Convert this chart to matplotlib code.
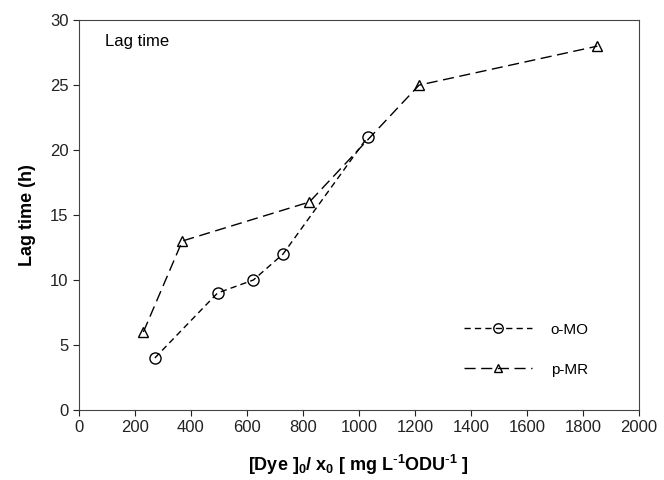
import matplotlib
matplotlib.use("Agg")
import matplotlib.pyplot as plt

plt.rcParams['font.family'] = ['Liberation Sans', 'DejaVu Sans']
plt.rcParams['mathtext.default'] = 'regular'

# data
omo_x = [271, 495, 623, 729, 1031]
omo_y = [4, 9, 10, 12, 21]
pmr_x = [230, 369, 823, 1215, 1852]
pmr_y = [6, 13, 16, 25, 28]

xticks = list(range(0, 2001, 200))
yticks = list(range(0, 31, 5))

fig = plt.figure(figsize=(6.64, 4.8), dpi=100)
ax = fig.add_axes([0.119, 0.146, 0.843, 0.812])

ax.plot(omo_x, omo_y, color='black', lw=1.0, dashes=(4.5, 3),
        marker='o', ms=8, mfc='none', mec='black', mew=1.0, label='o-MO')
ax.plot(pmr_x, pmr_y, color='black', lw=1.0, dashes=(8, 4),
        marker='^', ms=7, mfc='none', mec='black', mew=1.0, label='p-MR')

ax.set_xlim(0, 2000)
ax.set_ylim(0, 30)
ax.set_xticks(xticks)
ax.set_yticks(yticks)
ax.tick_params(direction='out', length=4, width=0.8, labelsize=12,
               colors='#222222', top=False, right=False)
for s in ax.spines.values():
    s.set_linewidth(0.8)
    s.set_color('#444444')

ax.set_xlabel(r'[Dye ]$_0$/ x$_0$ [ mg L$^{\text{-}1}$ODU$^{\text{-}1}$ ]',
              fontsize=13, fontweight='bold', labelpad=13)
ax.set_ylabel('Lag time (h)', fontsize=13, fontweight='bold', labelpad=10)

ax.text(0.047, 0.965, 'Lag time', transform=ax.transAxes, fontsize=12,
        va='top', ha='left')

leg = ax.legend(loc='lower right', bbox_to_anchor=(0.935, 0.05), frameon=False,
                fontsize=11, handlelength=4.5, labelspacing=1.7,
                handletextpad=1.2, markerscale=0.85)

fig.savefig('out.png', dpi=100)
